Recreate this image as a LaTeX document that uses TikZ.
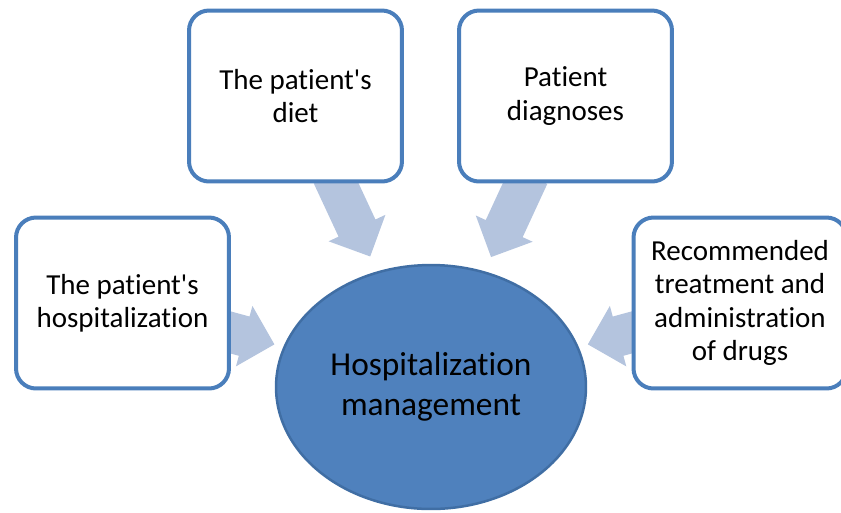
\documentclass[tikz,border=0pt]{standalone}
\usepackage{fontspec}
\setmainfont{Carlito}[Ligatures=NoCommon]
\usetikzlibrary{shapes.geometric,shapes.arrows,backgrounds}
\definecolor{boxline}{RGB}{74,126,187}
\definecolor{hubfill}{RGB}{79,129,189}
\definecolor{hubline}{RGB}{64,110,164}
\definecolor{arrowfill}{RGB}{180,196,222}
\begin{document}
\begin{tikzpicture}[x=0.02cm,y=-0.02cm,
	topic/.style={draw=boxline,fill=white,line width=0.08cm,rounded corners=0.4cm,minimum width=4.26cm,minimum height=3.42cm,align=center,font=\fontsize{16.5}{19}\selectfont},
	hubnode/.style={ellipse,draw=hubline,fill=hubfill,line width=0.05cm,minimum width=6.2cm,minimum height=4.88cm,align=center,font=\fontsize{19}{23}\selectfont},
	pointer/.style={single arrow,fill=arrowfill,draw=none,minimum width=0,minimum height=1.8cm,inner xsep=0,inner ysep=0.4cm,single arrow head extend=0.22cm,sloped,allow upside down,anchor=tip}]
		\useasboundingbox (0,0) rectangle (841,512);
		\node[hubnode] (hub) at (431,387) {Hospitalization\\management};
		\node[topic] (diet) at (295.5,96) {The patient\textquotesingle s\\diet};
		\node[topic] (diag) at (565.5,96) {Patient\\diagnoses};
		\node[topic] (hosp) at (122.5,303) {The patient\textquotesingle s\\hospitalization};
		\node[topic] (drugs) at (740,303) {Recommended\\treatment and\\administration\\of drugs};
		% arrows behind the boxes
		\begin{scope}[on background layer]
		\path (hosp.center) -- (hub.center) node[pointer,pos=0.494] (a1) {};
		\path (diet.center) -- (hub.center) node[pointer,pos=0.553] (a2) {};
		\path (diag.center) -- (hub.center) node[pointer,pos=0.555] (a3) {};
		\path (drugs.center) -- (hub.center) node[pointer,pos=0.494] (a4) {};
		\end{scope}
\end{tikzpicture}
\end{document}
